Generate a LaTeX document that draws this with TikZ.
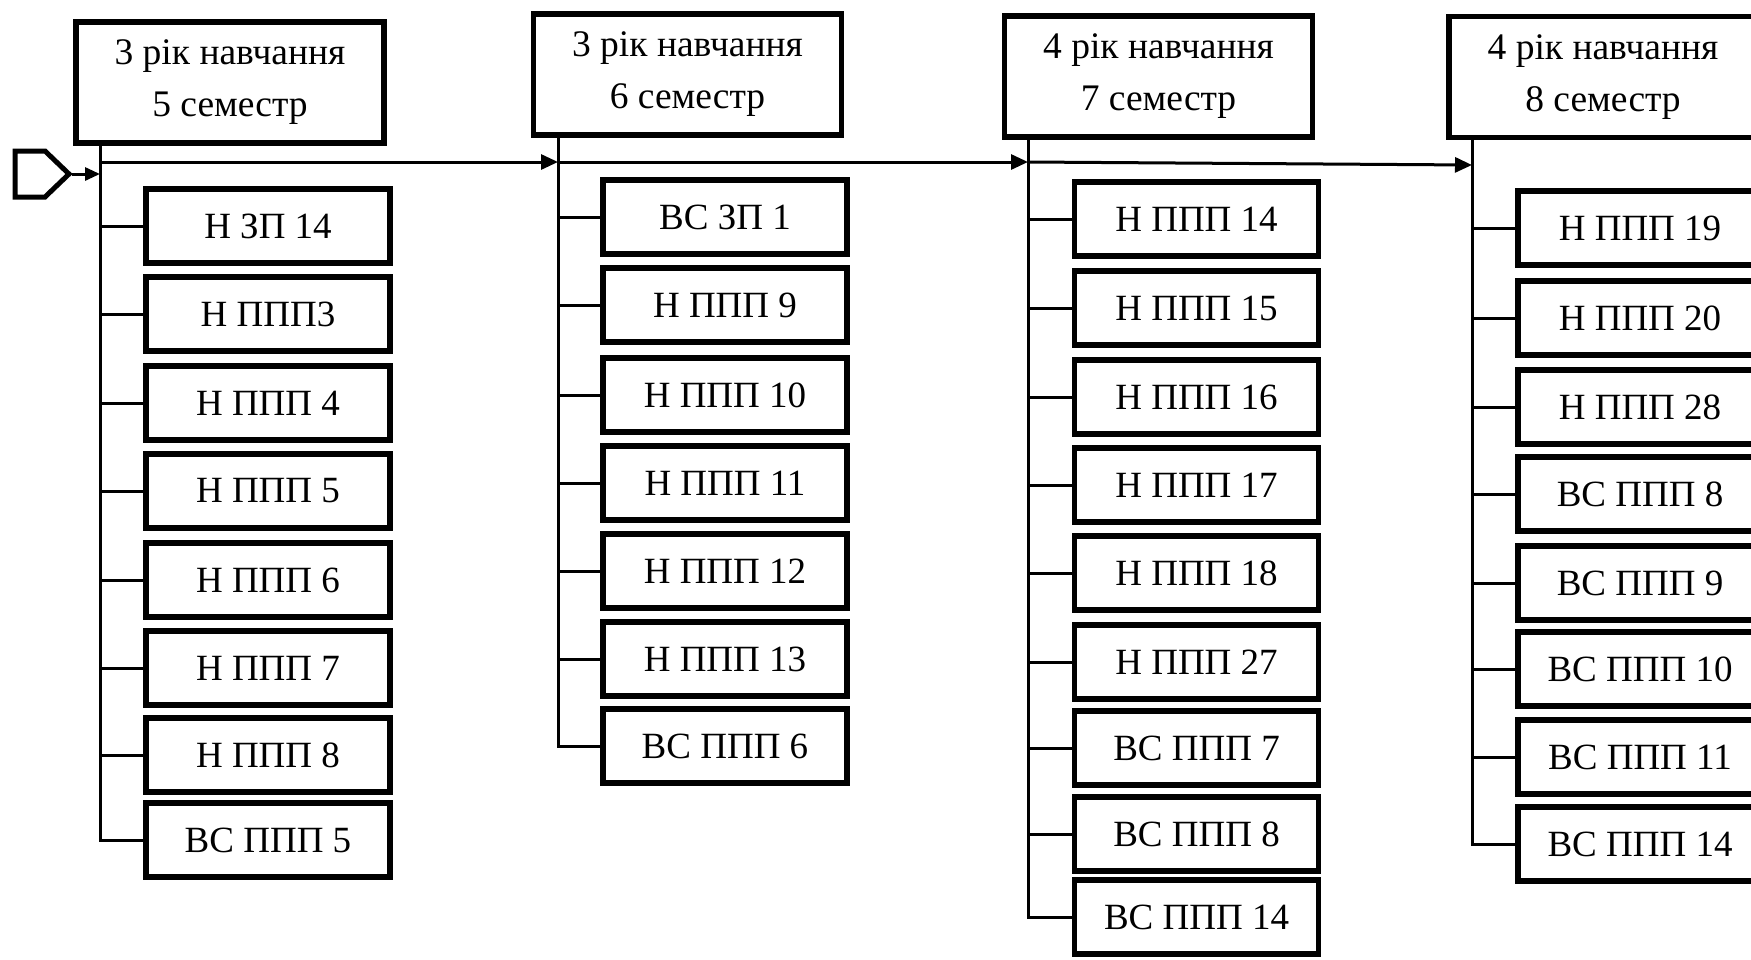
\documentclass[tikz,border=0pt]{standalone}
\usepackage{fontspec}
\setmainfont{Liberation Serif}
\usetikzlibrary{arrows.meta}
\begin{document}
\begin{tikzpicture}[x=1pt,y=-1pt,
  box/.style={draw,line width=5.5pt,minimum width=244pt,minimum height=74pt,inner sep=0pt,font=\fontsize{37}{44}\selectfont},
  head/.style={draw,line width=5.5pt,minimum width=308pt,minimum height=121pt,align=center,inner sep=0pt,font=\fontsize{37.5}{52}\selectfont},
  conn/.style={line width=3pt},
  flow/.style={line width=3pt,-{Triangle[length=17pt,width=15pt]}},
  small/.style={line width=3pt,-{Triangle[length=15pt,width=13pt]}}]
\useasboundingbox (0,0) rectangle (1751,959);
% headers
\node[head] (h1) at (230,82.5) {3 рік навчання\\5 семестр};
\node[head] (h2) at (687.5,74.5) {3 рік навчання\\6 семестр};
\node[head] (h3) at (1158.5,76.5) {4 рік навчання\\7 семестр};
\node[head] (h4) at (1603,77) {4 рік навчання\\8 семестр};
% flow coordinates
\coordinate (m1) at (100,162);
\coordinate (m2) at (558,162);
\coordinate (m3) at (1028,162);
\coordinate (m4) at (1472,165);
% start symbol
\draw[line width=5pt,line join=miter] (15,151) -- (45,151) -- (69,174) -- (45,197) -- (15,197) -- cycle;
\coordinate (start) at (72,174);
\coordinate (st) at (100,174);
\draw[small] (start) -- (st);
\draw[flow] (m1) -- (m2);
\draw[flow] (m2) -- (m3);
\draw[flow] (m3) -- (m4);
% column 1
\foreach \t/\y [count=\i] in {Н ЗП 14/226, Н ППП3/314, Н ППП 4/403, Н ППП 5/491, Н ППП 6/580, Н ППП 7/668, Н ППП 8/755, ВС ППП 5/840}
  \node[box] (a\i) at (268,\y) {\t};
\foreach \i in {1,...,7} \draw[conn] (m1 |- a\i) -- (a\i.west);
\draw[conn] (h1.south -| m1) -- (m1 |- a8) -- (a8.west);
% column 2
\foreach \t/\y [count=\i] in {ВС ЗП 1/217, Н ППП 9/305, Н ППП 10/395, Н ППП 11/483, Н ППП 12/571, Н ППП 13/659, ВС ППП 6/746}
  \node[box] (b\i) at (725,\y) {\t};
\foreach \i in {1,...,6} \draw[conn] (m2 |- b\i) -- (b\i.west);
\draw[conn] (h2.south -| m2) -- (m2 |- b7) -- (b7.west);
% column 3
\foreach \t/\y [count=\i] in {Н ППП 14/219, Н ППП 15/308, Н ППП 16/397, Н ППП 17/485, Н ППП 18/573, Н ППП 27/662, ВС ППП 7/748, ВС ППП 8/834, ВС ППП 14/917}
  \node[box] (c\i) at (1196.5,\y) {\t};
\foreach \i in {1,...,8} \draw[conn] (m3 |- c\i) -- (c\i.west);
\draw[conn] (h3.south -| m3) -- (m3 |- c9) -- (c9.west);
% column 4
\foreach \t/\y [count=\i] in {Н ППП 19/228, Н ППП 20/318, Н ППП 28/407, ВС ППП 8/494, ВС ППП 9/583, ВС ППП 10/669, ВС ППП 11/757, ВС ППП 14/844}
  \node[box] (d\i) at (1640,\y) {\t};
\foreach \i in {1,...,7} \draw[conn] (m4 |- d\i) -- (d\i.west);
\draw[conn] (h4.south -| m4) -- (m4 |- d8) -- (d8.west);
\end{tikzpicture}
\end{document}
